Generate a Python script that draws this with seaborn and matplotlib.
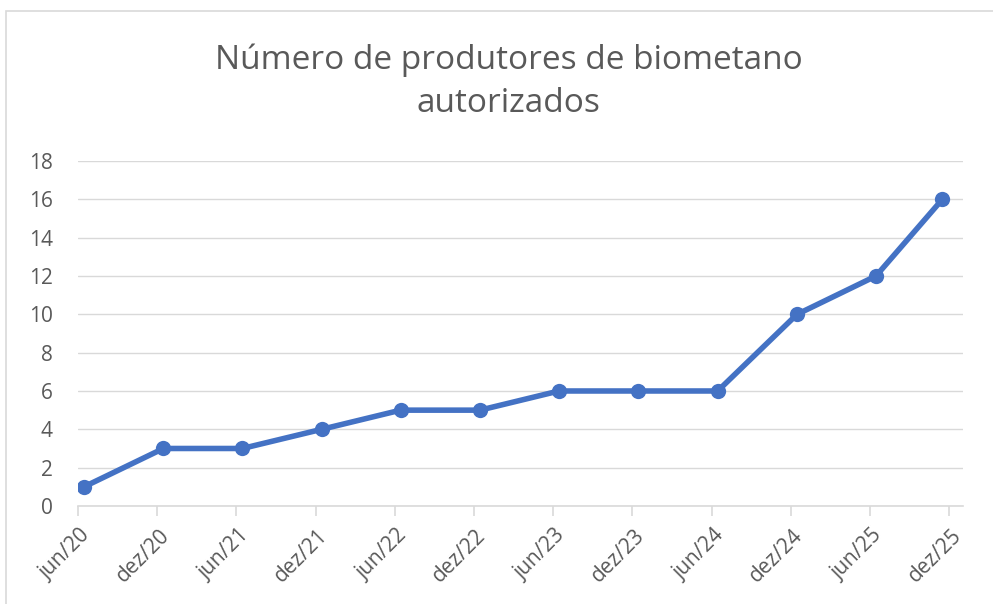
import matplotlib
matplotlib.use("Agg")
import matplotlib.pyplot as plt
import matplotlib.transforms as mtrans
from matplotlib.patches import Rectangle
import seaborn as sns
import pandas as pd

# Data
dates = ["2020-06-15", "2020-12-15", "2021-06-15", "2021-12-15", "2022-06-15",
         "2022-12-15", "2023-06-15", "2023-12-15", "2024-06-15", "2024-12-15",
         "2025-06-15", "2025-11-15"]
produtores = [1, 3, 3, 4, 5, 5, 6, 6, 6, 10, 12, 16]
tick_dates = ["2020-06-01", "2020-12-01", "2021-06-01", "2021-12-01", "2022-06-01",
              "2022-12-01", "2023-06-01", "2023-12-01", "2024-06-01", "2024-12-01",
              "2025-06-01", "2025-12-01"]
tick_labels = ["jun/20", "dez/20", "jun/21", "dez/21", "jun/22", "dez/22",
               "jun/23", "dez/23", "jun/24", "dez/24", "jun/25", "dez/25"]
title = "Número de produtores de biometano\nautorizados"

df = pd.DataFrame({"data": pd.to_datetime(dates), "produtores": produtores})

sns.set_theme(style="white")
plt.rcParams['font.family'] = ['Open Sans', 'DejaVu Sans']

TXT = "#595959"
GRID = "#D9D9D9"
BLUE = "#4472C4"

fig = plt.figure(figsize=(9.93, 6.04), dpi=100)
fig.patch.set_facecolor("white")
ax = fig.add_axes([0.0785, 0.1623, 0.891, 0.5711])

sns.lineplot(data=df, x="data", y="produtores", ax=ax, color=BLUE,
             linewidth=4.0, marker="o", markersize=11, markeredgewidth=0,
             zorder=3)

ax.set_xlim(pd.Timestamp("2020-06-01"), pd.Timestamp("2026-01-01"))
ax.set_ylim(0, 18)
ax.set_yticks(range(0, 19, 2))
ax.set_xticks(pd.to_datetime(tick_dates))
ax.set_xticklabels(tick_labels, rotation=45, ha="right", va="center",
                   rotation_mode="anchor")

ax.grid(axis="y", color=GRID, linewidth=1.0)
ax.grid(axis="x", visible=False)
for s in ["top", "right", "left"]:
    ax.spines[s].set_visible(False)
ax.spines["bottom"].set_color(GRID)
ax.spines["bottom"].set_linewidth(1.2)

ax.tick_params(axis="x", which="major", bottom=True, length=7, width=1.2,
               color=GRID, labelsize=15, labelcolor=TXT, pad=8)
ax.tick_params(axis="y", left=False, labelsize=15, labelcolor=TXT, pad=12)
ax.set_xlabel("")
ax.set_ylabel("")

offset = mtrans.ScaledTranslation(9 / 100, -6 / 100, fig.dpi_scale_trans)
for lbl in ax.get_xticklabels():
    lbl.set_transform(lbl.get_transform() + offset)

fig.text(0.512, 0.864, title, ha="center", va="center", fontsize=24,
         color=TXT, linespacing=1.4)

# Chart area border
fig.patches.append(Rectangle((6 / 993, -0.1), 1.2, (604 - 11) / 604 + 0.1,
                             transform=fig.transFigure, fill=False,
                             edgecolor=GRID, linewidth=1.2))

fig.savefig("out.png", dpi=100, facecolor="white")
